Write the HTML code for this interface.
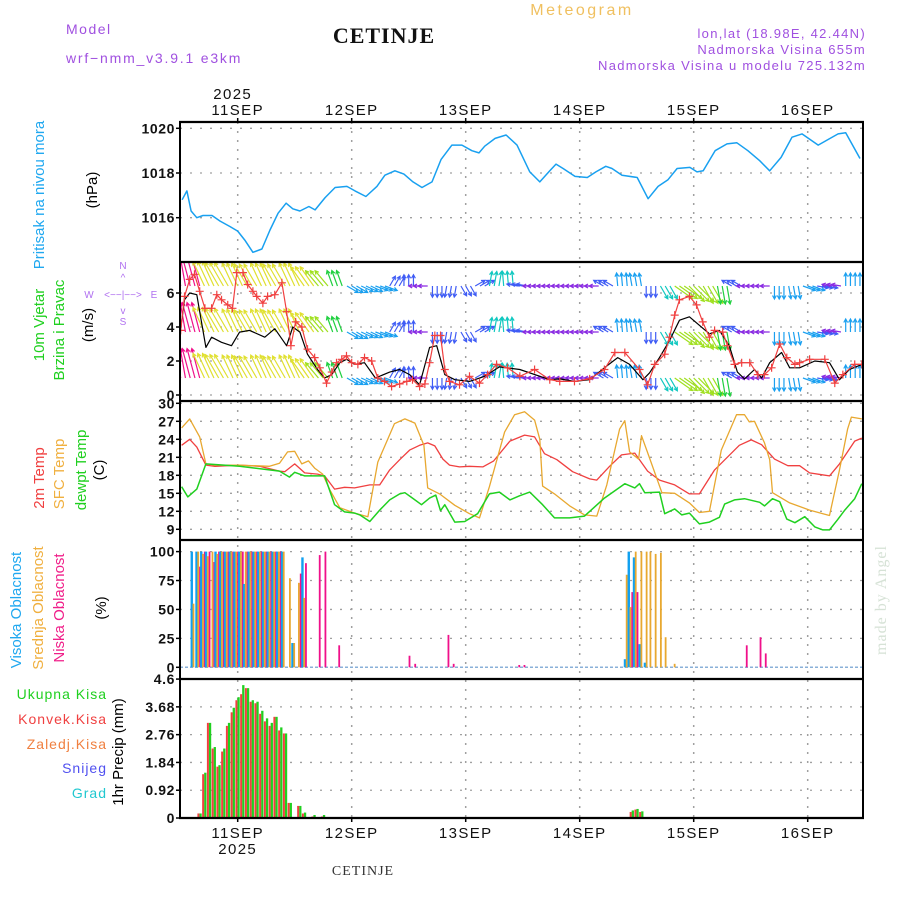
<!DOCTYPE html>
<html><head><meta charset="utf-8"><style>
html,body{margin:0;padding:0;background:#fff;}
svg{display:block;font-family:"Liberation Sans",sans-serif;}
</style></head><body>
<svg id="chart" width="900" height="900" viewBox="0 0 900 900">
<defs>
<clipPath id="c1"><rect x="180" y="122" width="683" height="140"/></clipPath>
<clipPath id="c2"><rect x="180" y="262" width="683" height="139"/></clipPath>
<clipPath id="c3"><rect x="180" y="401" width="683" height="139"/></clipPath>
<clipPath id="c4"><rect x="180" y="540" width="683" height="139"/></clipPath>
<clipPath id="c5"><rect x="180" y="679" width="683" height="139"/></clipPath>
</defs>
<g>
<text x="66" y="34" font-size="14" fill="#a050e0" letter-spacing="1.5">Model</text>
<text x="66" y="63" font-size="14" fill="#a050e0" letter-spacing="1.8">wrf−nmm_v3.9.1  e3km</text>
<text x="384" y="43" font-size="22" font-weight="bold" text-anchor="middle" font-family="'Liberation Serif',serif" letter-spacing="1" fill="#111">CETINJE</text>
<text x="582" y="15" font-size="16" fill="#f0c060" text-anchor="middle" letter-spacing="2.5">Meteogram</text>
<text x="866" y="38" font-size="13" fill="#a050e0" text-anchor="end" letter-spacing="1.3">lon,lat (18.98E, 42.44N)</text>
<text x="866" y="54" font-size="13" fill="#a050e0" text-anchor="end" letter-spacing="1.3">Nadmorska Visina 655m</text>
<text x="866" y="70" font-size="13" fill="#a050e0" text-anchor="end" letter-spacing="1.3">Nadmorska Visina u modelu 725.132m</text>
</g>
<g id="grid"></g>
<g id="series"></g>
<g id="frame"></g>
<g id="axes"></g>
<g font-size="15">
<text transform="translate(44,195) rotate(-90)" text-anchor="middle" fill="#20a8f0">Pritisak na nivou mora</text>
<text transform="translate(97,190) rotate(-90)" text-anchor="middle" fill="#000">(hPa)</text>
<text transform="translate(44,325) rotate(-90)" text-anchor="middle" fill="#20d020">10m Vjetar</text>
<text transform="translate(64,330) rotate(-90)" text-anchor="middle" fill="#20d020">Brzina i Pravac</text>
<text transform="translate(93,325) rotate(-90)" text-anchor="middle" fill="#000">(m/s)</text>
<text transform="translate(44,478) rotate(-90)" text-anchor="middle" fill="#f04040">2m Temp</text>
<text transform="translate(64,474) rotate(-90)" text-anchor="middle" fill="#f0b040">SFC Temp</text>
<text transform="translate(86,470) rotate(-90)" text-anchor="middle" fill="#20d020">dewpt Temp</text>
<text transform="translate(104,470) rotate(-90)" text-anchor="middle" fill="#000">(C)</text>
<text transform="translate(21,610) rotate(-90)" text-anchor="middle" fill="#20a8f0">Visoka Oblacnost</text>
<text transform="translate(43,608) rotate(-90)" text-anchor="middle" fill="#f0b040">Srednja Oblacnost</text>
<text transform="translate(64,608) rotate(-90)" text-anchor="middle" fill="#f0208a">Niska Oblacnost</text>
<text transform="translate(106,608) rotate(-90)" text-anchor="middle" fill="#000">(%)</text>
<text transform="translate(123,752) rotate(-90)" text-anchor="middle" fill="#000">1hr Precip (mm)</text>
</g>
<g font-size="14" letter-spacing="1" text-anchor="end">
<text x="107" y="699" fill="#20d020">Ukupna  Kisa</text>
<text x="107" y="724" fill="#f04040">Konvek.Kisa</text>
<text x="107" y="749" fill="#f08040">Zaledj.Kisa</text>
<text x="107" y="773" fill="#5050f0">Snijeg</text>
<text x="107" y="798" fill="#20c8d0">Grad</text>
</g>
<g fill="#b070f0" font-size="10" text-anchor="middle">
<text x="123" y="269">N</text>
<text x="89" y="298">W</text>
<text x="154" y="298">E</text>
<text x="123" y="325">S</text>
<text x="123" y="298" font-size="10">&lt;−−|−−&gt;</text>
<text x="123" y="281">^</text>
<text x="123" y="314">v</text>
</g>
<text transform="translate(886,600) rotate(-90)" text-anchor="middle" font-size="16" fill="#d6e2d6" font-family="'Liberation Serif',serif" letter-spacing="1">made by Angel</text>
<text x="363" y="875" text-anchor="middle" font-size="14" font-family="'Liberation Serif',serif" fill="#333" letter-spacing="1">CETINJE</text>
</svg>
<script>
// ---------- data ----------
const dayLabels = ["11SEP","12SEP","13SEP","14SEP","15SEP","16SEP"];
const yearLabel = "2025";
const pressTicks = [1016,1018,1020];
const windTicks = [0,2,4,6];
const tempTicks = [9,12,15,18,21,24,27,30];
const cloudTicks = [0,25,50,75,100];
const precipTicks = ["0","0.92","1.84","2.76","3.68","4.6"];

const pressHours = [-11.7,-10.7,-9.8,-8.6,-7.3,-5.4,-3.7,-1.6,0,1.5,3.2,5.1,6.8,8.5,10.2,11.6,13.1,15,16.3,18.4,20.5,23,24.7,27,29.3,31,33.1,35,36.9,38.8,40.9,42.8,45.1,47.2,49.3,50.8,52,54.2,56.5,58.8,61.5,63.6,65.7,67,68.5,71,73.6,75.4,77.5,78.8,80.9,84.1,86.4,88.5,90.6,92.5,95.2,96.7,98,100.5,103,105.1,107.4,109.9,112,114.4,116.7,118.8,122.2,124.3,126.4,128,131];
const pressVals = [1016.8,1017.2,1016.3,1016.0,1016.1,1016.1,1015.85,1015.6,1015.4,1015.0,1014.45,1014.6,1015.45,1016.2,1016.65,1016.4,1016.3,1016.5,1016.35,1016.9,1017.35,1017.4,1017.2,1016.95,1017.4,1017.9,1018.1,1017.95,1017.6,1017.35,1017.6,1018.6,1019.25,1019.25,1019.0,1018.9,1019.2,1019.55,1019.7,1019.25,1018.05,1017.6,1018.1,1018.4,1018.2,1017.85,1017.8,1018.05,1018.3,1018.2,1017.9,1017.8,1016.85,1017.4,1017.7,1018.2,1018.25,1018.05,1018.1,1019.0,1019.3,1019.35,1019.0,1018.55,1018.1,1018.7,1019.6,1019.75,1019.25,1019.5,1019.75,1019.8,1018.65];

const gustHours = [-12,-11.2,-10.1,-9.1,-8,-6.9,-5.5,-4.4,-3.4,-2.1,-1.1,-0.2,1.1,2.1,3.2,4,5.3,6.3,7.8,9.3,10.3,11.2,12.2,13.5,14.7,16.2,17.3,18.7,19.8,20.8,21.9,22.9,24,25.3,26.7,28.2,29.5,30.9,32.4,34.1,35.6,36.8,38.3,39.4,40.4,41.5,42.7,43.6,44.6,46.7,48.8,50.9,52.6,54.5,56.8,59.4,62.5,65.7,67.8,70.9,74.1,77.2,79.4,81.5,84.6,86.3,87.8,89.9,90.9,92,93,95.1,96.6,97.9,99.3,100.4,102.1,103.1,104.6,106.1,107.8,109.5,110.9,112.4,114.1,115.6,117.3,118.3,120.4,123.6,125.7,127.4,129.9,131.4];
const gustVals = [3.8,5.8,6.8,7.1,6.1,5.1,5.1,5.9,5.6,5.3,5.1,7.2,7.2,6.5,6.1,5.8,5.4,5.8,5.9,6.6,4.9,2.9,4.3,4.0,2.7,2.2,1.6,0.7,1.35,1.9,2.1,2.3,1.9,1.8,2.2,2.0,1.0,0.8,0.5,0.65,0.8,0.9,0.5,0.65,1.9,3.5,3.5,1.5,0.8,0.6,1.1,0.7,1.2,1.8,1.6,1.1,1.5,0.9,0.8,0.8,0.95,1.5,2.5,2.5,1.5,0.6,1.8,2.4,3.4,4.7,5.6,5.8,5.3,4.3,3.4,3.8,3.7,2.9,1.8,1.9,1.9,1.2,1.2,1.6,3.0,2.2,1.8,1.9,2.1,2.1,0.7,1.2,1.8,1.8];
const speedHours = [-12,-11.2,-10.1,-8.6,-8,-6.7,-5.5,-3.4,-1.3,0.4,2.5,5.7,7.8,10.3,11.6,13.1,14.7,16.8,18.3,19.8,21.5,22.9,24.6,26.7,29,32,34.1,36.2,38.3,40.4,41.9,43.6,45.7,48.8,52,55.1,59.4,65.7,67.8,70.9,74.1,77.2,80,82.5,85.3,86.7,88.8,90.9,93,95.1,97.2,99.3,101.4,103.5,105.2,106.7,108.8,110.3,112,114.5,116.2,118.3,121.5,124.6,126.7,128.8,131.4];
const speedVals = [3.9,5.6,6.0,5.9,4.9,2.8,3.4,3.1,2.9,3.7,3.8,3.4,3.9,2.9,4.0,3.7,2.4,1.5,1.0,1.2,1.9,2.1,1.8,1.9,1.0,1.35,1.5,1.2,0.6,2.8,2.9,1.2,0.9,0.8,1.1,1.65,1.5,0.9,0.95,0.8,0.9,1.6,2.2,1.8,0.9,1.3,2.2,3.2,4.4,4.6,4.1,3.6,3.8,2.9,1.35,0.95,1.5,1.0,1.9,2.5,1.6,1.6,2.0,1.9,0.9,1.5,1.8];
const arrowHours = [-12,-9,-6,-3,0,3,6,9,12,15,18,21,24,27,30,33,36,39,42,45,48,51,54,57,60,63,66,69,72,75,78,81,84,87,90,93,96,99,102,105,108,111,114,117,120,123,126,129,132];
const arrowDir = [100,105,115,120,115,120,115,120,115,125,130,110,-30,-25,-20,60,90,180,-90,-100,-60,30,80,95,170,180,180,180,180,180,150,95,100,-90,-60,-35,-45,-60,-80,150,180,180,-90,-80,-20,-10,170,90,90];
const arrowSpd = [7,7,6,6,5.5,5.5,5.5,5.5,5.5,5,4,3,2,2,2,1.5,1.5,1,1.5,1.5,1.5,1.5,2.5,2.5,1.5,1,1,1,1,1,1.5,2,2,1.5,2.5,4.5,4.5,4,3.5,1.5,1,1,2,2,2,1.5,1,2,2];

const t2Hours = [-11.8,-10.1,-8.6,-6.7,-4.8,0.4,4.6,8.8,9.9,12,14.1,16.8,18.3,20.4,22.5,24.6,27.8,29.9,32,34.1,36.2,38.3,40,41.5,43.2,44.6,46.7,48.8,51.6,53.9,57.3,60.4,62.5,64.6,67.2,70.5,74.1,75.6,78.3,80.8,83.6,86.3,88.8,92,95.1,97.2,100.4,105.6,108.1,110.3,113,115.8,118.3,120.4,122.9,124.6,126.7,129.9,131.4];
const t2Vals = [23,24,22.7,19.7,19.5,19.7,19.5,18.7,18.6,19.9,18.4,18.2,17.9,15.7,16,15.9,16.4,16.4,18.9,20.6,22.2,23,23.4,22.9,20.7,19.7,19.4,19.5,19.4,20.4,23.7,24.7,24.4,21.6,20.6,18.6,17.4,17.2,19.5,21.4,21.7,18.7,17.2,16.4,14.9,14.9,18.9,23,23.9,23.1,20.7,19.6,19.6,18.4,18.1,17.9,19.9,23.7,24.2];
const sfcHours = [-11.8,-10.1,-8,-6.7,-4.8,0.4,6.7,8.8,10.5,12,13.5,14.9,16.2,17.9,19.4,21.5,24.6,27.4,29.5,31.4,33,35.2,37.3,39.2,40,42.5,45.7,48.8,50.9,53,56.2,58.3,60.4,62.5,63.6,64.2,66.7,69.9,73,75.6,77.7,80.4,81.5,82.5,84.4,85,86.7,89.3,92,95.1,97.2,99.3,101.8,105,106.7,107.7,108.8,110.9,112,112.6,116.2,120.4,123.6,124.6,126.7,128.4,129.2,131.4];
const sfcVals = [25.9,27.4,24.4,19.9,19.7,19.7,19.5,20,21.9,22,19.9,20.4,19.2,18.2,15.6,12.6,11.7,11.1,20.2,23.7,26.6,27.4,26.7,23,15.9,14.9,13,11.6,10.9,16.1,25.2,28.1,28.6,27.2,24,16.2,14.9,12.9,11.4,11.2,16.4,25.7,27.1,21.9,20.7,24.6,20.9,15.1,15,13.4,11.8,12,22.2,28.1,28.1,26.9,27,23.4,20.6,15.1,13.4,12.2,11.5,11.3,18.9,25.7,27.7,27.4];
const dewHours = [-11.8,-10.5,-8.6,-6.7,0.4,8.8,10.9,12,14.1,18.3,20.4,22.5,24.6,25.7,27.8,29.9,32,34.1,35.2,36.8,38.7,40.4,41.7,42.7,43.6,45.7,47.8,50.5,53,55.1,57.3,59.4,61.5,64.2,66.7,69.9,73,77.2,81.5,83.6,84.6,85.7,88.8,89.9,92,93.5,95.1,97.2,99.3,101.4,102.5,104.6,106.7,109.9,110.9,112.6,114.1,115.6,117.3,119.4,121.5,123.2,124.6,126.3,127.8,129.9,131.4];
const dewVals = [16.1,14.4,15.7,19.9,19.5,18.7,17.7,18.5,17.9,17.9,13.1,11.9,11.7,11.4,10.3,12.2,13.9,14.9,15.1,14.2,13.1,14.2,14.7,12.1,13.1,10.2,10.3,11.6,14.9,15.2,13.9,14.6,15.2,13.1,10.9,10.9,11.2,14.2,16.6,15.9,16.6,15.1,15.2,11.6,12.4,11.4,11.7,9.9,10.2,11,13.2,13.9,14.1,13.5,12.9,14.1,13.6,10.7,10.1,11.1,9.4,8.9,8.9,10.6,12.2,14.1,16.6];

const cloudHours = [-9.5,-8.5,-7.5,-6.5,-5.5,-4.5,-3.5,-2.5,-1.5,-0.5,0.5,1.5,2.5,3.5,4.5,5.5,6.5,7.5,8.5,9.5,10.8,11.7,12.7,13.8,16.7,17.9,20.8,35.6,36.8,43.8,44.9,58.7,59.8,81.7,82.5,83.6,84.8,85.9,86.7,87.8,88.9,89.9,91.8,106.6,109.5,110.6];
const highCloud = [100,100,100,100,0,100,100,100,100,100,100,72,100,100,100,100,100,100,100,100,0,21,0,95,0,0,0,0,0,0,0,0,0,7,100,95,20,4,0,0,0,0,0,0,0,0];
const midCloud = [55,100,98,96,100,98,100,100,100,100,100,100,100,100,100,100,100,100,100,100,77,21,73,60,0,0,0,0,0,0,0,0,0,80,52,100,100,100,100,98,99,26,3,0,0,0];
const lowCloud = [0,87,100,100,91,100,100,100,100,100,100,100,100,100,100,100,100,100,100,0,0,0,81,90,97,100,19,10,3,28,3,2,2,0,65,65,0,0,0,0,0,0,0,19,26,12];

const precipHours = [-8,-7,-6,-5,-4,-3,-2,-1,0,1,2,3,4,5,6,7,8,9,10,11,13,14,16,18,83,84,85];
const precipTotal = [0.15,1.5,3.15,2.35,1.75,2.3,3.15,3.65,4.0,4.4,4.3,3.9,3.85,3.55,3.3,3.15,3.35,3.0,2.8,0.5,0.4,0.18,0.1,0.1,0.25,0.3,0.22];
const precipConv = [0.15,1.45,3.15,2.3,1.7,2.2,3.05,3.5,3.9,4.1,4.3,3.85,3.8,3.45,3.2,3.05,3.35,2.9,2.8,0.5,0.4,0.15,0.05,0.05,0.2,0.28,0.2];

// ---------- scales ----------
const NS = "http://www.w3.org/2000/svg";
const X = h => 237.7 + h * 4.75;
const Yp = v => 128.3 + (1020 - v) * 22.35;
const Yw = v => 395 - v * 17;
const Yt = v => 403.3 + (30 - v) * 6;
const Yc = v => 667.3 - v * 1.157;
const Yr = v => 818 - v * 30.2;
const L = 180, R = 863;

function mk(parent, tag, attrs) {
  const e = document.createElementNS(NS, tag);
  for (const k in attrs) e.setAttribute(k, attrs[k]);
  parent.appendChild(e);
  return e;
}
const grid = document.getElementById('grid');
const ser = document.getElementById('series');
const frame = document.getElementById('frame');
const axes = document.getElementById('axes');

// ---------- grid ----------
function hgrid(y) {
  const g = mk(grid, 'line', {x1: L, x2: R, y1: y, y2: y, stroke: '#a0a0a0', 'stroke-width': 1.3, 'stroke-dasharray': '2,8'});
  
  
}
pressTicks.forEach(v => hgrid(Yp(v)));
windTicks.forEach(v => hgrid(Yw(v)));
tempTicks.forEach(v => hgrid(Yt(v)));
cloudTicks.forEach(v => hgrid(Yc(v)));
precipTicks.forEach(v => hgrid(Yr(parseFloat(v))));
dayLabels.forEach((d, i) => {
  const g = mk(grid, 'line', {x1: X(i * 24), x2: X(i * 24), y1: 122, y2: 818, stroke: '#a0a0a0', 'stroke-width': 1.5, 'stroke-dasharray': '2,7'});
  
  
});

// ---------- pressure ----------
function line(hours, vals, ys, color, clip, name, w) {
  const d = hours.map((h, i) => (i ? 'L' : 'M') + X(h).toFixed(1) + ',' + ys(vals[i]).toFixed(1)).join('');
  const p = mk(ser, 'path', {d: d, fill: 'none', stroke: color, 'stroke-width': w || 1.3, 'clip-path': 'url(#' + clip + ')', 'stroke-linejoin': 'round'});
  
  
  return p;
}
line(pressHours, pressVals, Yp, '#18a0f0', 'c1', 'pressure-line', 1.5);

// ---------- wind arrows ----------
function spdColor(s) {
  if (s < 1.2) return '#8a2be2';
  if (s < 1.8) return '#3f5cf5';
  if (s < 2.3) return '#1aa0f0';
  if (s < 3) return '#10c8c0';
  if (s < 4) return '#20d040';
  if (s < 5) return '#a0e020';
  if (s < 6.5) return '#e0e030';
  return '#f0108a';
}
const arrowG = mk(ser, 'g', {'clip-path': 'url(#c2)'});


const rows = [286, 332, 378];
rows.forEach(by => {
  arrowHours.forEach((h, i) => {
    const a = arrowDir[i] * Math.PI / 180;
    const len = 6 + arrowSpd[i] * 3.5;
    const col = spdColor(arrowSpd[i]);
    [-1, 0, 1].forEach(off => {
      const x0 = X(h + off), y0 = by;
      const x1 = x0 + Math.cos(a) * len, y1 = y0 - Math.sin(a) * len;
      const ar = mk(arrowG, 'path', {
        d: 'M' + x0 + ',' + y0 + 'L' + x1 + ',' + y1 +
           'M' + (x1 - Math.cos(a - 0.5) * 4) + ',' + (y1 + Math.sin(a - 0.5) * 4) + 'L' + x1 + ',' + y1 +
           'L' + (x1 - Math.cos(a + 0.5) * 4) + ',' + (y1 + Math.sin(a + 0.5) * 4),
        stroke: col, 'stroke-width': 1.2, fill: 'none'});
      
      
    });
  });
});

// ---------- wind speed ----------
line(speedHours, speedVals, Yw, '#000', 'c2', 'wind-speed-line', 1.2);
line(gustHours, gustVals, Yw, '#f04040', 'c2', 'wind-gust-line', 1.2);
const gm = mk(ser, 'g', {'clip-path': 'url(#c2)', stroke: '#f04040', 'stroke-width': 1.2});


gustHours.forEach((h, i) => {
  const x = X(h), y = Yw(gustVals[i]);
  const m = mk(gm, 'path', {d: 'M' + (x - 4) + ',' + y + 'H' + (x + 4) + 'M' + x + ',' + (y - 4) + 'V' + (y + 4)});
  
  
});

// ---------- temperature ----------
line(t2Hours, t2Vals, Yt, '#f04040', 'c3', 'temp-2m-line', 1.3);
line(sfcHours, sfcVals, Yt, '#e8a830', 'c3', 'temp-sfc-line', 1.3);
line(dewHours, dewVals, Yt, '#20d020', 'c3', 'dewpoint-line', 1.5);

// ---------- clouds ----------
const zl = mk(ser, 'line', {x1: L, x2: R, y1: Yc(0), y2: Yc(0), stroke: '#8ab0d8', 'stroke-width': 1.5, 'stroke-dasharray': '3,2'});


cloudHours.forEach((h, i) => {
  const x = X(h);
  [[highCloud[i], '#10a0f0', -2, 'bar-high-cloud'], [midCloud[i], '#e8a830', 0, 'bar-mid-cloud'], [lowCloud[i], '#f0108a', 1.8, 'bar-low-cloud']].forEach(b => {
    if (b[0] <= 0) return;
    const r = mk(ser, 'rect', {x: x + b[2], y: Yc(b[0]), width: b[1] === '#10a0f0' ? 2.4 : 1.8, height: Yc(0) - Yc(b[0]), fill: b[1], 'clip-path': 'url(#c4)'});
    
    
  });
});

// ---------- precip ----------
precipHours.forEach((h, i) => {
  const x = X(h);
  const g = mk(ser, 'rect', {x: x - 0.3, y: Yr(precipTotal[i]), width: 2.3, height: Yr(0) - Yr(precipTotal[i]), fill: '#20d020'});
  
  
  const r = mk(ser, 'rect', {x: x - 2.3, y: Yr(precipConv[i]), width: 2, height: Yr(0) - Yr(precipConv[i]), fill: '#f04040'});
  
  
});

// ---------- frame ----------
[122, 262, 401, 540, 679, 818].forEach(y => {
  const l = mk(frame, 'line', {x1: L - 1, x2: R + 1, y1: y, y2: y, stroke: '#000', 'stroke-width': 2.2});
  
  
});
[L, R].forEach(x => {
  const l = mk(frame, 'line', {x1: x, x2: x, y1: 122, y2: 818, stroke: '#000', 'stroke-width': 2});
  
  
});

// ---------- tick labels ----------
function ylab(txt, y, name) {
  const t = mk(axes, 'text', {x: 175, y: y + 5, 'text-anchor': 'end', 'font-size': 14, 'font-weight': 'bold', 'letter-spacing': 0.6, fill: '#111'});
  t.textContent = txt;
  
  
  const tk = mk(axes, 'line', {x1: L - 4, x2: L, y1: y, y2: y, stroke: '#000', 'stroke-width': 1.5});
  
  
}
pressTicks.forEach(v => ylab(String(v), Yp(v), 'pressure-tick-label'));
windTicks.forEach(v => ylab(String(v), Yw(v), 'wind-tick-label'));
tempTicks.forEach(v => ylab(String(v), Yt(v), 'temp-tick-label'));
cloudTicks.forEach(v => ylab(String(v), Yc(v), 'cloud-tick-label'));
precipTicks.forEach(v => ylab(v, Yr(parseFloat(v)), 'precip-tick-label'));

dayLabels.forEach((d, i) => {
  const x = X(i * 24);
  const t1 = mk(axes, 'text', {x: x, y: 115, 'text-anchor': 'middle', 'font-size': 15, 'letter-spacing': 1.4, fill: '#111'});
  t1.textContent = d;
  
  
  const t2 = mk(axes, 'text', {x: x, y: 838, 'text-anchor': 'middle', 'font-size': 15, 'letter-spacing': 1.4, fill: '#111'});
  t2.textContent = d;
  
  
  [[118, 122], [818, 822]].forEach(p => {
    const tk = mk(axes, 'line', {x1: x, x2: x, y1: p[0], y2: p[1], stroke: '#000', 'stroke-width': 1.5});
    
    
  });
});
const yt = mk(axes, 'text', {x: X(0) - 5, y: 99, 'text-anchor': 'middle', 'font-size': 15, 'letter-spacing': 1.4, fill: '#111'});
yt.textContent = yearLabel;


const yb = mk(axes, 'text', {x: X(0), y: 854, 'text-anchor': 'middle', 'font-size': 15, 'letter-spacing': 1.4, fill: '#111'});
yb.textContent = yearLabel;


</script>
</body></html>
